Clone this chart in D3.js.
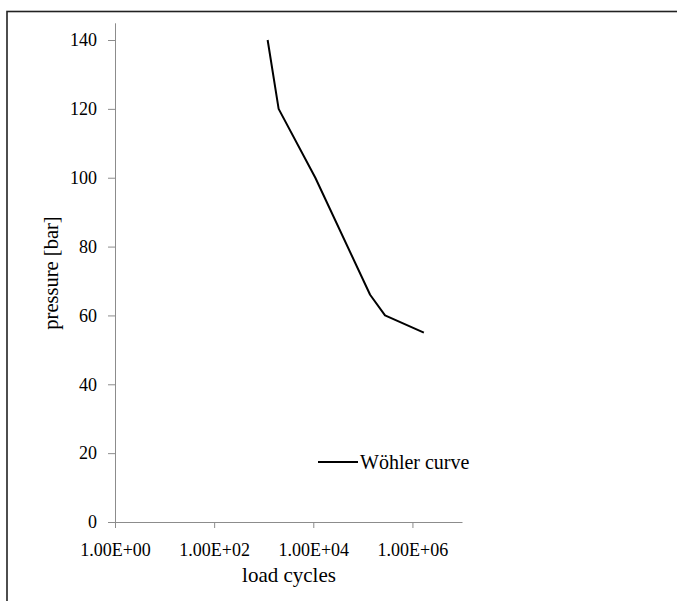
<!DOCTYPE html>
<html>
<head>
<meta charset="utf-8">
<script src="https://cdn.jsdelivr.net/npm/d3@7"></script>
<style>
  html, body { margin: 0; padding: 0; background: #fff; }
  svg { display: block; }
  text { font-family: "Liberation Serif", "Times New Roman", serif; fill: #000; }
</style>
</head>
<body>
<div id="chart"></div>
<script>
// Wöhler (S-N) curve: pressure vs. number of load cycles
const loadCycles = [1200, 2000, 11000, 140000, 280000, 1700000];
const pressure   = [140, 120, 100, 66, 60, 55];
const xTicks = [1, 1e2, 1e4, 1e6];
const xTickLabels = ["1.00E+00", "1.00E+02", "1.00E+04", "1.00E+06"];
const yTicks = [0, 20, 40, 60, 80, 100, 120, 140];
const seriesName = "Wöhler curve";

const W = 677, H = 601;
const svg = d3.select("#chart").append("svg").attr("width", W).attr("height", H);

// outer frame (runs past the right and bottom edges)
svg.append("rect")
  .attr("x", 7).attr("y", 11.5)
  .attr("width", W + 20).attr("height", H + 20)
  .attr("fill", "none").attr("stroke", "#222").attr("stroke-width", 1.6);

const x = d3.scaleLog().domain([1, 1e7]).range([115, 462]);
const y = d3.scaleLinear().domain([0, 145]).range([522, 22.8]);

const axisColor = "#8c8c8c";
const tickFont = 18;

// y axis
const yAxis = svg.append("g")
  .attr("transform", `translate(${x(1)},0)`)
  .call(d3.axisLeft(y).tickValues(yTicks).tickSize(7).tickPadding(11).tickSizeOuter(0));
yAxis.select(".domain").attr("stroke", axisColor);
yAxis.selectAll(".tick line").attr("stroke", axisColor);
yAxis.selectAll(".tick text")
  .attr("font-size", tickFont).attr("font-family", "Liberation Serif").attr("fill", "#000");

// x axis
const xAxis = svg.append("g")
  .attr("transform", `translate(0,${y(0)})`)
  .call(d3.axisBottom(x).tickValues(xTicks)
    .tickFormat((d, i) => xTickLabels[i]).tickSize(6).tickPadding(15).tickSizeOuter(0));
xAxis.select(".domain").attr("stroke", axisColor);
xAxis.selectAll(".tick line").attr("stroke", axisColor);
xAxis.selectAll(".tick text")
  .attr("font-size", tickFont).attr("font-family", "Liberation Serif").attr("fill", "#000");

// curve
const pts = loadCycles.map((c, i) => [c, pressure[i]]);
svg.append("path")
  .datum(pts)
  .attr("fill", "none")
  .attr("stroke", "#000")
  .attr("stroke-width", 2)
  .attr("stroke-linejoin", "round")
  .attr("d", d3.line().x(d => x(d[0])).y(d => y(d[1])));

// axis titles
svg.append("text")
  .attr("x", 289).attr("y", 582)
  .attr("text-anchor", "middle").attr("font-size", 21)
  .text("load cycles");
svg.append("text")
  .attr("transform", "translate(58,273) rotate(-90)")
  .attr("text-anchor", "middle").attr("font-size", 20.5)
  .text("pressure [bar]");

// legend
const lg = svg.append("g").attr("transform", "translate(318,462)");
lg.append("line").attr("x1", 0).attr("x2", 40).attr("y1", 0).attr("y2", 0)
  .attr("stroke", "#000").attr("stroke-width", 2);
lg.append("text").attr("x", 42).attr("y", 6.5).attr("font-size", 20).text(seriesName);
</script>
</body>
</html>
